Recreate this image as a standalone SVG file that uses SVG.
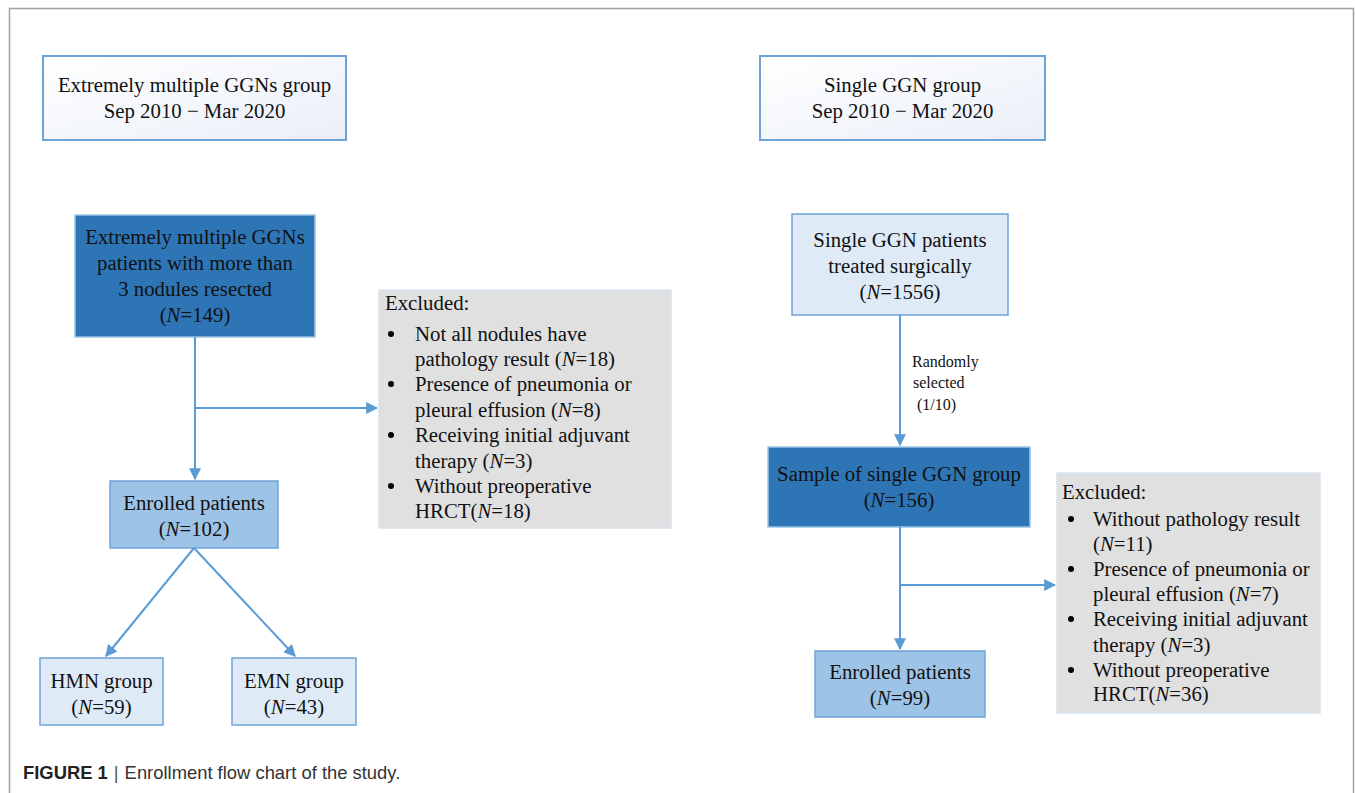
<svg xmlns="http://www.w3.org/2000/svg" width="1355" height="793" viewBox="0 0 1355 793">
<defs>
<linearGradient id="hdr" x1="0" y1="0" x2="1" y2="1">
<stop offset="0" stop-color="#ffffff"/>
<stop offset="1" stop-color="#eaeff8"/>
</linearGradient>
<marker id="arr" viewBox="0 0 10 10" refX="9" refY="5" markerWidth="6" markerHeight="6" orient="auto" markerUnits="strokeWidth">
<path d="M0,0 L10,5 L0,10 z" fill="#5b9bd5"/>
</marker>
<style>
text{font-family:"Liberation Serif","Times New Roman",serif;font-size:20.8px;fill:#111}
.c{text-anchor:middle}
.hdr{fill:url(#hdr);stroke:#6fa3d8;stroke-width:2}
.dark{fill:#2e75b6;stroke:#9dc3e6;stroke-width:1.5}
.mid{fill:#9dc3e6;stroke:#6fa3d8;stroke-width:1.5}
.lite{fill:#deebf7;stroke:#6fa3d8;stroke-width:1.5}
.gray{fill:#e0e0e0;stroke:#d8e4f0;stroke-width:1.5}
.ln{stroke:#5b9bd5;stroke-width:2;fill:none}
.sm{font-size:16px}
.cap{font-family:"Liberation Sans",Arial,sans-serif;font-size:18.4px;fill:#333}
</style>
</defs>
<rect width="1355" height="793" fill="#fff"/>
<path d="M9.5,793 V8.5 H1353.5 V793" fill="none" stroke="#a0a0a0" stroke-width="1.5"/>

<g id="left-header">
<rect class="hdr" x="43" y="56" width="303" height="84"/>
<text class="c" x="194.5" y="92">Extremely multiple GGNs group</text>
<text class="c" x="194.5" y="118">Sep 2010 − Mar 2020</text>
</g>
<g id="right-header">
<rect class="hdr" x="760" y="56" width="285" height="84"/>
<text class="c" x="902.5" y="92">Single GGN group</text>
<text class="c" x="902.5" y="118">Sep 2010 − Mar 2020</text>
</g>

<g id="emg-patients">
<rect class="dark" x="75" y="215" width="240" height="122"/>
<text class="c" x="195" y="244">Extremely multiple GGNs</text>
<text class="c" x="195" y="270">patients with more than</text>
<text class="c" x="195" y="296">3 nodules resected</text>
<text class="c" x="195" y="322">(<tspan font-style="italic">N</tspan>=149)</text>
</g>

<g id="left-excluded">
<rect class="gray" x="379" y="290" width="292" height="238"/>
<text x="385" y="310">Excluded:</text>
<g>
<circle cx="391" cy="334" r="3"/>
<circle cx="391" cy="384" r="3"/>
<circle cx="391" cy="435" r="3"/>
<circle cx="391" cy="486" r="3"/>
</g>
<text x="415" y="341">Not all nodules have</text>
<text x="415" y="366">pathology result (<tspan font-style="italic">N</tspan>=18)</text>
<text x="415" y="391">Presence of pneumonia or</text>
<text x="415" y="417">pleural effusion (<tspan font-style="italic">N</tspan>=8)</text>
<text x="415" y="442">Receiving initial adjuvant</text>
<text x="415" y="468">therapy (<tspan font-style="italic">N</tspan>=3)</text>
<text x="415" y="493">Without preoperative</text>
<text x="415" y="518">HRCT(<tspan font-style="italic">N</tspan>=18)</text>
</g>

<g id="left-enrolled">
<rect class="mid" x="110" y="481" width="168" height="67"/>
<text class="c" x="194" y="510">Enrolled patients</text>
<text class="c" x="194" y="536">(<tspan font-style="italic">N</tspan>=102)</text>
</g>

<g id="hmn">
<rect class="lite" x="40" y="658" width="123" height="67"/>
<text class="c" x="101.5" y="688">HMN group</text>
<text class="c" x="101.5" y="714">(<tspan font-style="italic">N</tspan>=59)</text>
</g>
<g id="emn">
<rect class="lite" x="232" y="658" width="124" height="67"/>
<text class="c" x="294" y="688">EMN group</text>
<text class="c" x="294" y="714">(<tspan font-style="italic">N</tspan>=43)</text>
</g>

<g id="single-patients">
<rect class="lite" x="792" y="214" width="216" height="101"/>
<text class="c" x="900" y="247">Single GGN patients</text>
<text class="c" x="900" y="273">treated surgically</text>
<text class="c" x="900" y="299">(<tspan font-style="italic">N</tspan>=1556)</text>
</g>

<g id="sample">
<rect class="dark" x="768" y="447" width="262" height="80"/>
<text class="c" x="899" y="481">Sample of single GGN group</text>
<text class="c" x="899" y="507">(<tspan font-style="italic">N</tspan>=156)</text>
</g>

<g id="right-excluded">
<rect class="gray" x="1057" y="473" width="263" height="240"/>
<text x="1062" y="499">Excluded:</text>
<g>
<circle cx="1071" cy="519" r="3"/>
<circle cx="1071" cy="569" r="3"/>
<circle cx="1071" cy="619" r="3"/>
<circle cx="1071" cy="670" r="3"/>
</g>
<text x="1093" y="526">Without pathology result</text>
<text x="1093" y="551">(<tspan font-style="italic">N</tspan>=11)</text>
<text x="1093" y="576">Presence of pneumonia or</text>
<text x="1093" y="601">pleural effusion (<tspan font-style="italic">N</tspan>=7)</text>
<text x="1093" y="626">Receiving initial adjuvant</text>
<text x="1093" y="652">therapy (<tspan font-style="italic">N</tspan>=3)</text>
<text x="1093" y="677">Without preoperative</text>
<text x="1093" y="701">HRCT(<tspan font-style="italic">N</tspan>=36)</text>
</g>

<g id="right-enrolled">
<rect class="mid" x="815" y="651" width="170" height="66"/>
<text class="c" x="900" y="679">Enrolled patients</text>
<text class="c" x="900" y="705">(<tspan font-style="italic">N</tspan>=99)</text>
</g>

<g id="connectors">
<line class="ln" x1="195" y1="337" x2="195" y2="479" marker-end="url(#arr)"/>
<line class="ln" x1="195" y1="408" x2="377" y2="408" marker-end="url(#arr)"/>
<line class="ln" x1="194" y1="548" x2="106" y2="656" marker-end="url(#arr)"/>
<line class="ln" x1="194" y1="548" x2="295" y2="656" marker-end="url(#arr)"/>
<line class="ln" x1="900" y1="315" x2="900" y2="445" marker-end="url(#arr)"/>
<line class="ln" x1="900" y1="527" x2="900" y2="649" marker-end="url(#arr)"/>
<line class="ln" x1="900" y1="585" x2="1055" y2="585" marker-end="url(#arr)"/>
<text class="sm" x="912" y="367">Randomly</text>
<text class="sm" x="913" y="388">selected</text>
<text class="sm" x="917" y="410">(1/10)</text>
</g>

<g id="caption">
<text class="cap" x="23" y="779"><tspan font-weight="bold" fill="#222">FIGURE 1</tspan><tspan dx="6" fill="#555">|</tspan><tspan dx="6">Enrollment flow chart of the study.</tspan></text>
</g>
</svg>
